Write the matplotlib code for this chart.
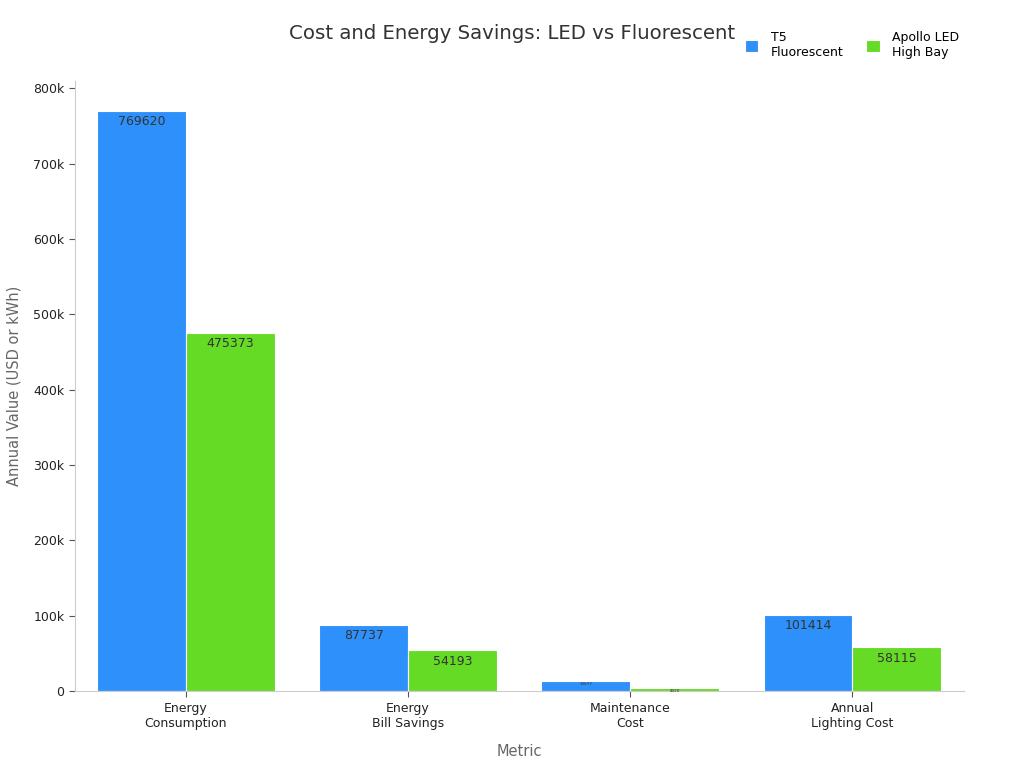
import matplotlib.pyplot as plt
import numpy as np

categories = ["Energy\nConsumption", "Energy\nBill Savings", "Maintenance\nCost", "Annual\nLighting Cost"]
t5_values = [769620, 87737, 13677, 101414]
led_values = [475373, 54193, 4020, 58115]
series_names = ["T5\nFluorescent", "Apollo LED\nHigh Bay"]
colors = ["#2e91fb", "#66db26"]

plt.rcParams['font.family'] = ['DejaVu Sans']

fig = plt.figure(figsize=(10.24, 7.68), dpi=100)
ax = fig.add_axes([0.073, 0.1, 0.868, 0.795])

x = np.arange(len(categories))
w = 0.4
bars1 = ax.bar(x - w / 2, t5_values, w, color=colors[0], edgecolor="white", linewidth=0.8, label=series_names[0])
bars2 = ax.bar(x + w / 2, led_values, w, color=colors[1], edgecolor="white", linewidth=0.8, label=series_names[1])

# value labels just inside the bar top, tiny ones for short bars
for bars in (bars1, bars2):
    for b in bars:
        h = b.get_height()
        fs = 9 if h > 30000 else 3
        off = 3 if h > 30000 else 0.5
        ax.annotate(str(int(h)), (b.get_x() + b.get_width() / 2, h),
                    xytext=(0, -off), textcoords="offset points",
                    ha="center", va="top", fontsize=fs, color="#333333")

ax.set_xlim(-0.5, 3.5)
ax.set_ylim(0, 810000)
ax.set_xticks(x)
ax.set_xticklabels(categories, fontsize=9, color="#222222")
ax.set_yticks(np.arange(0, 800001, 100000))
ax.set_yticklabels(["0"] + [f"{v // 1000}k" for v in range(100000, 800001, 100000)], fontsize=9, color="#222222")
ax.tick_params(axis="both", color="#555555", length=4)

for s in ["top", "right"]:
    ax.spines[s].set_visible(False)
for s in ["left", "bottom"]:
    ax.spines[s].set_color("#cccccc")

ax.set_xlabel("Metric", fontsize=10.5, color="#666666", labelpad=10)
ax.set_ylabel("Annual Value (USD or kWh)", fontsize=10.5, color="#666666", labelpad=8)

fig.text(0.5, 0.957, "Cost and Energy Savings: LED vs Fluorescent", ha="center", va="center",
         fontsize=14.2, color="#333333")

ax.legend(loc="upper right", bbox_to_anchor=(1.008, 1.1), ncol=2, frameon=False, fontsize=9,
          handlelength=1.1, handleheight=1.1, columnspacing=1.8, handletextpad=1.0)

plt.savefig("out.png")
